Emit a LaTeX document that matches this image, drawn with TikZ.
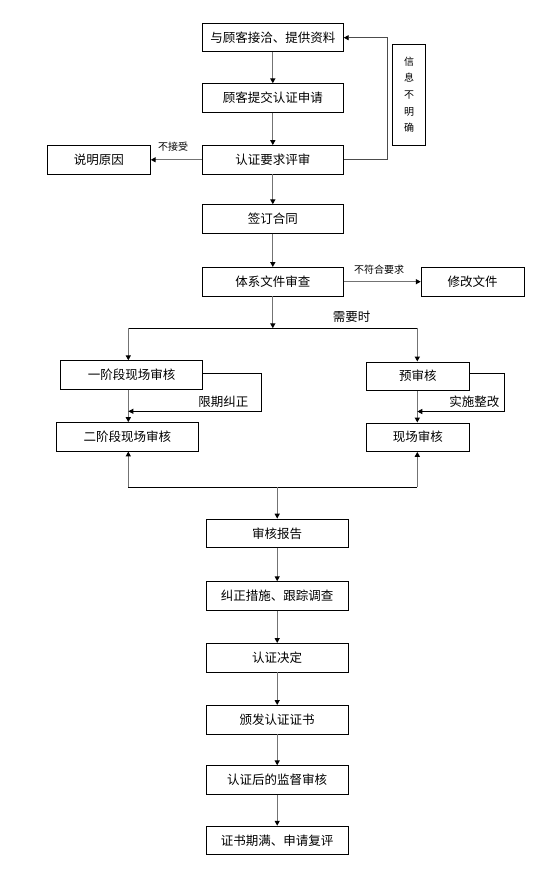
\documentclass[tikz,border=0pt]{standalone}
\usepackage{fontspec}
\newfontfamily\cjk{Noto Sans CJK SC}
\usetikzlibrary{arrows.meta,calc}
\begin{document}
\begin{tikzpicture}[x=1pt,y=-1pt,
  box/.style={draw=black,line width=0.8pt,fill=white,inner sep=0pt,minimum height=28.5pt,font=\cjk\fontsize{12.5}{14}\selectfont},
  wbox/.style={box,minimum width=141pt},
  sbox/.style={box,minimum width=103pt},
  arr/.style={draw=black!55,line width=1.3pt,-{Triangle[color=black,length=5pt,width=5pt]}},
  thin/.style={draw=black,line width=0.7pt},
  thinarr/.style={draw=black,line width=0.7pt,-{Triangle[color=black,length=5pt,width=5pt]}},
  lab/.style={inner sep=0pt,font=\cjk\fontsize{12.5}{14}\selectfont},
  slab/.style={inner sep=0pt,font=\cjk\fontsize{10}{12}\selectfont}]
\useasboundingbox (0,0) rectangle (553,874);
% top column
\node[wbox] (b1) at (272.8,37.3) {与顾客接洽、提供资料};
\node[wbox] (b2) at (272.8,98) {顾客提交认证申请};
\node[wbox] (b3) at (272.8,159.8) {认证要求评审};
\node[wbox] (b4) at (272.8,219) {签订合同};
\node[wbox] (b5) at (272.8,281.7) {体系文件审查};
\node[sbox] (why) at (98.8,159.8) {说明原因};
\node[sbox] (fix) at (472.7,281.7) {修改文件};
\node[box,minimum width=33.4pt,minimum height=100.7pt,align=center,font=\cjk\fontsize{10}{16.6}\selectfont] (info) at (409,94.7) {信\\息\\不\\明\\确};
\draw[arr] (b1) -- (b2);
\draw[arr] (b2) -- (b3);
\draw[arr] (b3) -- (b4);
\draw[arr] (b4) -- (b5);
\draw[arr] (b3) -- (why);
\node[slab] (l1) at (173,146.5) {不接受};
\coordinate (fb1) at (387.3,159.8);
\coordinate (fb2) at (387.3,37.7);
\draw[draw=black!70,line width=0.8pt,-{Triangle[color=black,length=5pt,width=5pt]}] (b3.east) -- (fb1) -- (fb2) -- (b1.east |- fb2);
\draw[arr] (b5) -- (fix);
\node[slab] (l2) at (379,270) {不符合要求};
% split
\coordinate (j1) at (272.8,328.3);
\coordinate (jl) at (128.3,328.3);
\coordinate (jr) at (417.3,328.3);
\draw[arr] (b5) -- (j1);
\draw[thin] (jl) -- (jr);
\node[lab] (l3) at (351.7,316.7) {需要时};
\node[box,minimum width=141.6pt] (s1) at (131.5,375) {一阶段现场审核};
\node[box,minimum width=142pt] (s2) at (127.3,436.8) {二阶段现场审核};
\node[sbox] (p1) at (417.8,376.2) {预审核};
\node[sbox] (p2) at (417.8,437.2) {现场审核};
\draw[arr] (jl) -- (jl |- s1.north);
\draw[arr] (jr) -- (jr |- p1.north);
\draw[arr] (jl |- s1.south) -- (jl |- s2.north);
\draw[arr] (jr |- p1.south) -- (jr |- p2.north);
% loops
\coordinate (la) at (261,373.3);
\coordinate (lb) at (261,411.3);
\draw[thinarr] (s1.east |- la) -- (la) -- (lb) -- (jl |- lb);
\node[lab] (l4) at (223.3,402) {限期纠正};
\coordinate (ra) at (504.3,373.3);
\coordinate (rb) at (504.3,411.5);
\draw[thinarr] (p1.east |- ra) -- (ra) -- (rb) -- (jr |- rb);
\node[lab] (l5) at (474.3,402) {实施整改};
% merge
\coordinate (kl) at (128.3,487.3);
\coordinate (kr) at (417.3,487.3);
\coordinate (kc) at (277.2,487.3);
\draw[arr] (kl) -- (kl |- s2.south);
\draw[arr] (kr) -- (kr |- p2.south);
\draw[thin] (kl) -- (kr);
% bottom column
\node[box,minimum width=142.3pt] (c1) at (277.2,533.3) {审核报告};
\node[box,minimum width=142.3pt] (c2) at (277.2,595.9) {纠正措施、跟踪调查};
\node[box,minimum width=142.3pt] (c3) at (277.2,657.7) {认证决定};
\node[box,minimum width=142.3pt] (c4) at (277.2,719.7) {颁发认证证书};
\node[box,minimum width=142.3pt] (c5) at (277.2,780) {认证后的监督审核};
\node[box,minimum width=142.3pt] (c6) at (277.2,840.4) {证书期满、申请复评};
\draw[arr] (kc) -- (c1);
\draw[arr] (c1) -- (c2);
\draw[arr] (c2) -- (c3);
\draw[arr] (c3) -- (c4);
\draw[arr] (c4) -- (c5);
\draw[arr] (c5) -- (c6);
\end{tikzpicture}
\end{document}
